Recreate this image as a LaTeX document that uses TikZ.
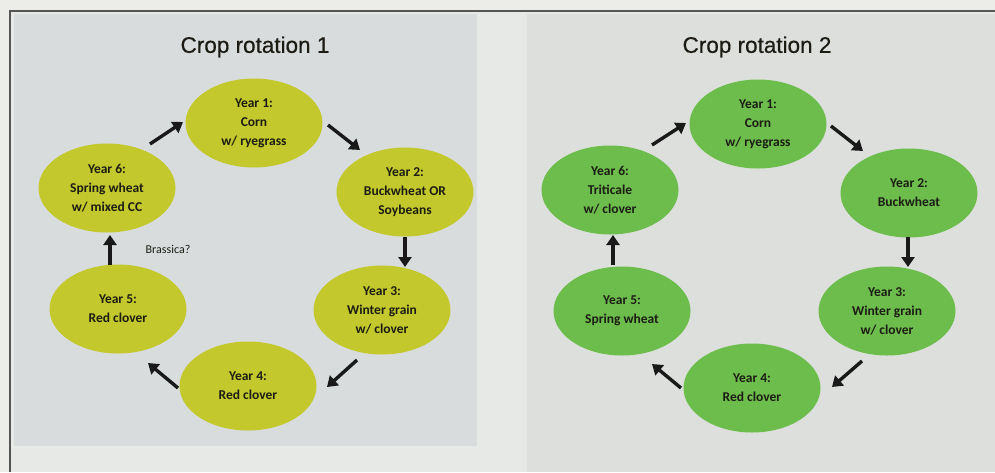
\documentclass[tikz,border=0pt]{standalone}
\usepackage{fontspec}
\setmainfont{Liberation Sans}
\newfontfamily\lblfont{Carlito}
\newfontfamily\titlefont[FakeBold=0.6]{Liberation Sans}
\usetikzlibrary{shapes.geometric,arrows.meta,calc}
\definecolor{pagebg}{HTML}{ECECE8}
\definecolor{innerbg}{HTML}{E7E9E6}
\definecolor{leftbg}{HTML}{D8DCDC}
\definecolor{rightbg}{HTML}{DDDFDD}
\definecolor{framec}{HTML}{555555}
\definecolor{yellowg}{HTML}{C3C82C}
\definecolor{greenf}{HTML}{6CBD4C}
\definecolor{txt}{HTML}{1C1C14}
\tikzset{
  yearbox/.style={ellipse, minimum width=137pt, minimum height=89pt, inner sep=0pt,
    align=center, text=txt, font=\lblfont\bfseries\fontsize{13.5}{19}\selectfont},
  yellowbox/.style={yearbox, fill=yellowg},
  greenbox/.style={yearbox, fill=greenf},
  arr/.style={line width=3.4pt, black!90, -{Triangle[length=10pt,width=13pt]}},
  titletext/.style={text=txt, font=\titlefont\fontsize{22.5}{26}\selectfont, inner sep=0pt},
}
\begin{document}
\begin{tikzpicture}[x=1pt,y=-1pt]
\useasboundingbox (0,0) rectangle (995,472);
% backgrounds
\fill[pagebg] (0,0) rectangle (995,472);
\fill[innerbg] (10,11) rectangle (995,472);
\fill[leftbg] (14,14) rectangle (477,446);
\fill[rightbg] (527,14) rectangle (995,472);
\draw[framec, line width=2pt] (10,472) -- (10,11) -- (995,11);

% titles
\node[titletext] (t1) at (255,47) {Crop rotation 1};
\node[titletext] (t2) at (757,47) {Crop rotation 2};

% rotation 1
\node[yellowbox] (a1) at (254,123) {Year 1:\\Corn\\w/ ryegrass};
\node[yellowbox] (a2) at (405,192) {Year 2:\\Buckwheat OR\\Soybeans};
\node[yellowbox] (a3) at (382,310) {Year 3:\\Winter grain\\w/ clover};
\node[yellowbox] (a4) at (248,386) {Year 4:\\Red clover};
\node[yellowbox] (a5) at (118,309) {Year 5:\\Red clover};
\node[yellowbox] (a6) at (107,188) {Year 6:\\Spring wheat\\w/ mixed CC};
\node[text=txt, font=\lblfont\fontsize{12}{14}\selectfont, inner sep=0pt] (br) at (168,249) {Brassica?};

\draw[arr] ($(a6)+(43,-44)$) -- ($(a1)+(-71,-1)$);
\draw[arr] ($(a1)+(74,2)$) -- ($(a2)+(-45,-42)$);
\draw[arr] ($(a2)+(0,45)$) -- ($(a3)+(23,-43)$);
\draw[arr] ($(a3)+(-25,50)$) -- ($(a4)+(79,1)$);
\draw[arr] ($(a4)+(-70,2)$) -- ($(a5)+(30,54)$);
\draw[arr] ($(a5)+(-8,-44)$) -- ($(a6)+(3,47)$);

% rotation 2
\node[greenbox] (b1) at (758,124) {Year 1:\\Corn\\w/ ryegrass};
\node[greenbox] (b2) at (909,193) {Year 2:\\Buckwheat};
\node[greenbox] (b3) at (887,311) {Year 3:\\Winter grain\\w/ clover};
\node[greenbox] (b4) at (752,388) {Year 4:\\Red clover};
\node[greenbox] (b5) at (622,311) {Year 5:\\Spring wheat};
\node[greenbox] (b6) at (610,190) {Year 6:\\Triticale\\w/ clover};

\draw[arr] ($(b6)+(42,-45)$) -- ($(b1)+(-72,-1)$);
\draw[arr] ($(b1)+(73,2)$) -- ($(b2)+(-46,-42)$);
\draw[arr] ($(b2)+(-1,44)$) -- ($(b3)+(21,-44)$);
\draw[arr] ($(b3)+(-25,50)$) -- ($(b4)+(80,-1)$);
\draw[arr] ($(b4)+(-71,0)$) -- ($(b5)+(30,53)$);
\draw[arr] ($(b5)+(-9,-46)$) -- ($(b6)+(3,45)$);
\end{tikzpicture}
\end{document}
